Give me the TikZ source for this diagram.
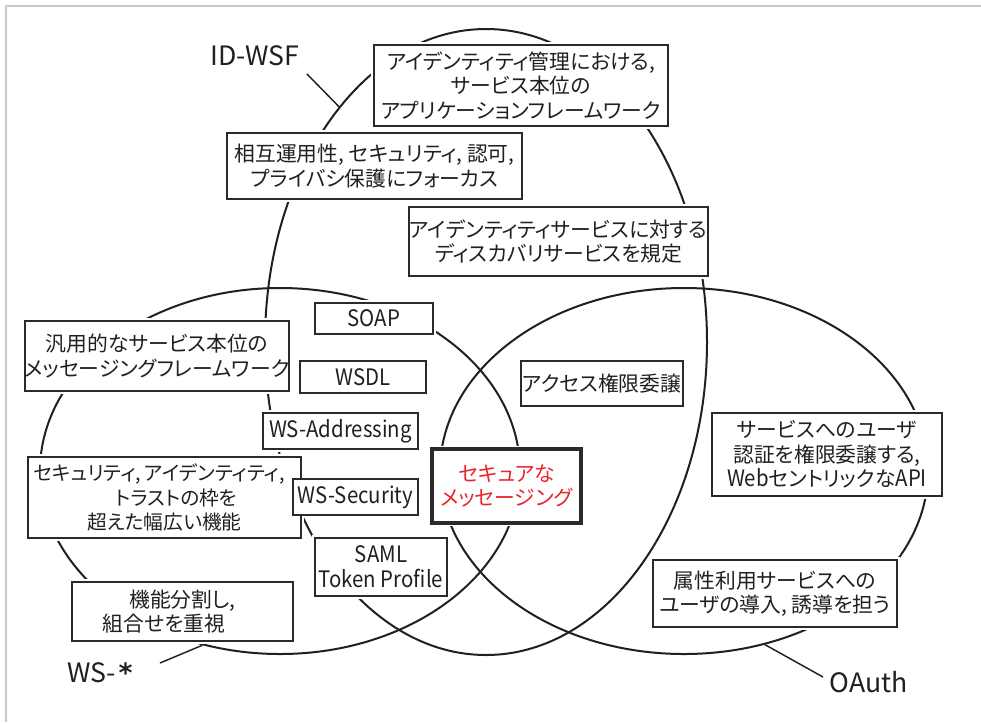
\documentclass[tikz,border=0pt]{standalone}
\usepackage{fontspec}
\setmainfont[RawFeature=+palt]{Noto Sans CJK JP}
\newfontfamily\latinf[FakeStretch=0.9]{Noto Sans CJK JP}
\newfontfamily\dejavu{DejaVu Sans}
\usetikzlibrary{shapes.geometric}
\definecolor{ink}{HTML}{231F20}
\definecolor{boxc}{HTML}{2A2A2A}
\definecolor{redc}{HTML}{E8262D}
\definecolor{framec}{HTML}{C8C8C8}
\newcommand\jpsize{\fontsize{15.6}{18.4}\selectfont}
\newcommand\jpsmall{\fontsize{14.8}{18.4}\selectfont}
\newcommand\lnsize{\latinf\fontsize{17}{18.8}\selectfont}
\newcommand\lbsize{\fontsize{20}{24}\selectfont}
\begin{document}
\begin{tikzpicture}[x=0.75pt,y=-0.75pt,
  venn/.style={draw=ink, line width=1.5pt, ellipse, inner sep=0pt},
  halo/.style={preaction={draw=white, line width=5pt}},
  box/.style 2 args={draw=boxc, fill=white, line width=1.4pt, inner sep=0pt,
    minimum width=#1*0.75pt, minimum height=#2*0.75pt, align=center,
    font=\jpsize, text=ink},
  lbl/.style={font=\lbsize, text=ink, inner sep=0pt},
  pointer/.style={draw=ink, line width=1.1pt}
]
\useasboundingbox (0,0) rectangle (981,722);
\fill[white] (0,0) rectangle (981,722);
\draw[framec, line width=1.5pt] (6,722) -- (6,6) -- (981,6);

% ellipses
\node[venn, minimum width=442*0.75pt, minimum height=626*0.75pt] (idwsf) at (486,342) {};
\node[venn, minimum width=480*0.75pt, minimum height=366*0.75pt] (wsstar) at (280,471) {};
\node[venn, minimum width=488*0.75pt, minimum height=366*0.75pt] (oauth) at (684,471) {};

% ID-WSF boxes
\node[box={294}{81}, halo] (a) at (521,85.5) {アイデンティティ管理における,\\サービス本位の\\アプリケーションフレームワーク};
\node[box={295}{66}, halo] (b) at (374.5,166) {相互運用性, セキュリティ, 認可,\\プライバシ保護にフォーカス};
\node[box={295}{69}, halo] (c) at (558.5,241.5) {アイデンティティサービスに対する\\ディスカバリサービスを規定};

% WS-* boxes
\node[box={258}{70}, halo] (g) at (157,356) {汎用的なサービス本位の\\メッセージングフレームワーク};
\node[box={273}{81}, halo, font=\jpsmall] (s) at (164.5,497.5) {\hspace*{-8pt}セキュリティ,\,アイデンティティ,\\\hspace*{18pt}トラストの枠を\\超えた幅広い機能};
\node[box={221}{59}, halo] (k) at (182.5,611.5) {機能分割し,\\組合せを重視\hspace*{28pt}};
\node[box={118}{31}, halo, font=\lnsize] (soap) at (374,318.5) {SOAP};
\node[box={126}{32}, halo, font=\lnsize] (wsdl) at (363,377) {WSDL};
\node[box={155}{36}, halo, font=\lnsize] (wsa) at (340.5,431) {WS-Addressing};
\node[box={125}{36}, font=\lnsize] (wss) at (355.5,497) {WS-Security};
\node[box={132}{58}, halo, font=\lnsize] (saml) at (381,567) {SAML\\Token Profile};

% OAuth boxes
\node[box={162}{45}, halo] (ac) at (602,383.5) {アクセス権限委譲};
\node[box={230}{83}, halo] (sv) at (827,454.5) {サービスへのユーザ\\認証を権限委譲する,\\{\lnsize Web}セントリックな{\lnsize API}};
\node[box={244}{67}, halo] (at) at (775,593.5) {属性利用サービスへの\\ユーザの導入, 誘導を担う};

% center
\node[box={149}{74}, halo, line width=2.6pt, text=redc] (sm) at (506.5,486) {セキュアな\\メッセージング};

% labels
\node[lbl] (lidwsf) at (255,56) {ID-WSF};
\node[lbl] (lws) at (100,673) {WS-\kern2pt{\dejavu\bfseries *}};
\node[lbl] (loauth) at (868.5,682) {OAuth};

% pointers
\coordinate (pid) at (307,74);
\coordinate (pws) at (160,663);
\coordinate (poa) at (823,677);
\draw[pointer] (pid) -- (idwsf.122);
\draw[pointer] (pws) -- (wsstar.-114);
\draw[pointer] (poa) -- (oauth.-65);
\end{tikzpicture}
\end{document}
